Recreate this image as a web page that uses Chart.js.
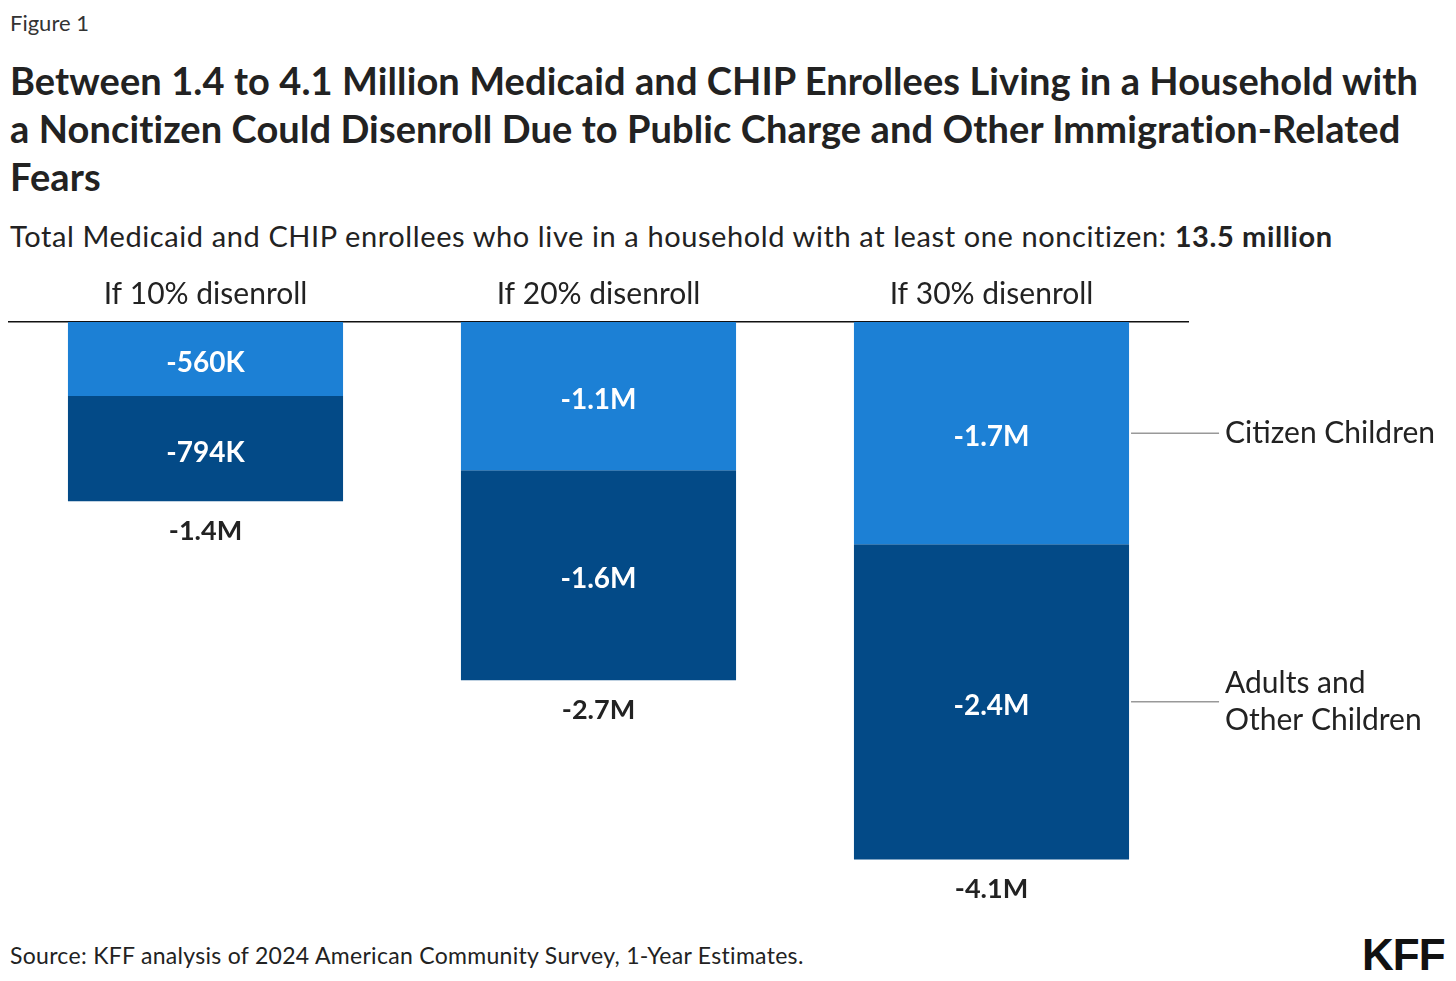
<!DOCTYPE html>
<html>
<head>
<meta charset="utf-8">
<script src="https://cdn.jsdelivr.net/npm/chart.js@4.4.1/dist/chart.umd.min.js"></script>
<style>
  body { margin: 0; background: #fff; font-family: Lato, sans-serif; color: #222; }
  #fig { position: absolute; left: 10px; top: 9px; font-size: 22px; color: #333; }
  #title { position: absolute; left: 10px; top: 56px; font-size: 38px; font-weight: 700; line-height: 48px; color: #222; letter-spacing: 0.1px; }
  #sub { position: absolute; left: 10px; top: 218px; font-size: 29px; letter-spacing: 0.6px; color: #222; }
  #wrap { position: absolute; left: 0; top: 260px; width: 1456px; height: 660px; }
  #src { position: absolute; left: 10px; top: 941px; font-size: 23px; letter-spacing: 0.3px; color: #222; }
  #logo { position: absolute; left: 1362px; top: 930px; font-family: "Liberation Sans Narrow", "Liberation Sans", sans-serif; font-weight: 700; font-size: 44px; letter-spacing: -1px; color: #111; }
</style>
</head>
<body>
<div id="fig">Figure 1</div>
<div id="title">Between 1.4 to 4.1 Million Medicaid and CHIP Enrollees Living in a Household with<br>a Noncitizen Could Disenroll Due to Public Charge and Other Immigration-Related<br>Fears</div>
<div id="sub">Total Medicaid and CHIP enrollees who live in a household with at least one noncitizen: <b>13.5 million</b></div>
<div id="wrap"><canvas id="c"></canvas></div>
<div id="src">Source: KFF analysis of 2024 American Community Survey, 1-Year Estimates.</div>
<div id="logo">KFF</div>
<script>
// values in millions (negative = disenrollment)
const categories = ['If 10% disenroll', 'If 20% disenroll', 'If 30% disenroll'];
const citizenChildren = [-0.56, -1.12, -1.68];
const adultsOther = [-0.794, -1.588, -2.382];
const citizenLabels = ['-560K', '-1.1M', '-1.7M'];
const adultsLabels = ['-794K', '-1.6M', '-2.4M'];
const seriesNames = [['Citizen Children'], ['Adults and', 'Other Children']];

const totals = citizenChildren.map((v, i) => v + adultsOther[i]);

const labelPlugin = {
  id: 'labels',
  afterDatasetsDraw(chart) {
    const ctx = chart.ctx;
    const segLabels = [citizenLabels, adultsLabels];
    ctx.save();
    ctx.textAlign = 'center';
    ctx.textBaseline = 'middle';
    chart.data.datasets.forEach((ds, di) => {
      const meta = chart.getDatasetMeta(di);
      meta.data.forEach((bar, i) => {
        ctx.fillStyle = '#fff';
        ctx.font = 'bold 28px Lato, sans-serif';
        ctx.fillText(segLabels[di][i], bar.x, (bar.y + bar.base) / 2 + 4);
      });
    });
    // totals under the stack
    const last = chart.getDatasetMeta(1);
    last.data.forEach((bar, i) => {
      ctx.fillStyle = '#222';
      ctx.font = 'bold 27px Lato, sans-serif';
      ctx.fillText(totals[i].toFixed(1) + 'M', bar.x, bar.y + 30);
    });
    // series labels beside last bar
    ctx.textAlign = 'left';
    ctx.font = '30px Lato, sans-serif';
    chart.data.datasets.forEach((ds, di) => {
      const bar = chart.getDatasetMeta(di).data[categories.length - 1];
      const y = (bar.y + bar.base) / 2;
      const x0 = bar.x + bar.width / 2 + 2;
      ctx.strokeStyle = '#999';
      ctx.lineWidth = 1.5;
      ctx.beginPath();
      ctx.moveTo(x0, y);
      ctx.lineTo(x0 + 88, y);
      ctx.stroke();
      ctx.fillStyle = '#222';
      const lines = seriesNames[di];
      const lh = 37;
      lines.forEach((t, k) => {
        ctx.fillText(t, x0 + 94, y + (k - (lines.length - 1) / 2) * lh);
      });
    });
    ctx.restore();
  }
};

new Chart(document.getElementById('c'), {
  type: 'bar',
  data: {
    labels: categories,
    datasets: [
      { label: 'Citizen Children', data: citizenChildren, backgroundColor: '#1c80d5' },
      { label: 'Adults and Other Children', data: adultsOther, backgroundColor: '#034a87' }
    ]
  },
  options: {
    responsive: true,
    maintainAspectRatio: false,
    animation: false,
    layout: { padding: { left: 9, right: 268, top: 6, bottom: 0 } },
    datasets: { bar: { categoryPercentage: 1, barPercentage: 0.7 } },
    plugins: { legend: { display: false }, tooltip: { enabled: false } },
    scales: {
      x: {
        stacked: true,
        position: 'top',
        grid: { drawOnChartArea: false, drawTicks: false },
        border: { display: true, color: '#111', width: 1.5 },
        ticks: { color: '#222', font: { family: 'Lato', size: 30 }, padding: 10 }
      },
      y: { stacked: true, min: -4.52, max: 0, display: false }
    }
  },
  plugins: [labelPlugin]
});
</script>
</body>
</html>
